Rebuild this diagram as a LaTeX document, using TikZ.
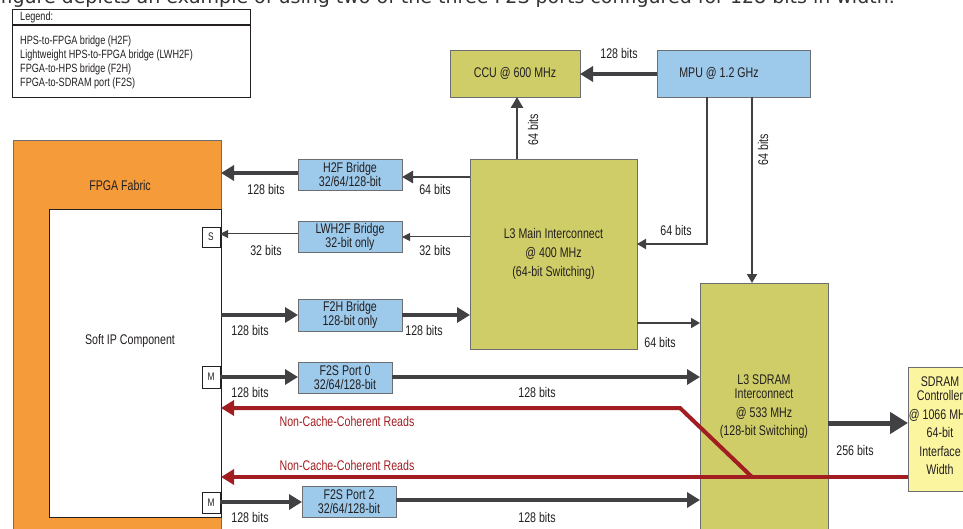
\documentclass[tikz,border=0pt]{standalone}
\usepackage{fontspec}
\setmainfont[FakeStretch=0.76]{Liberation Sans}
\newfontfamily\topfont{DejaVu Sans}
\usetikzlibrary{arrows.meta}
\definecolor{olivec}{HTML}{CFCD68}
\definecolor{bluec}{HTML}{9DC9EA}
\definecolor{orangec}{HTML}{F59B3A}
\definecolor{yelc}{HTML}{FBF5A0}
\definecolor{bordc}{HTML}{6D6E71}
\definecolor{arrc}{HTML}{414042}
\definecolor{redc}{HTML}{A11D21}
\definecolor{txtc}{HTML}{231F20}
\definecolor{topc}{HTML}{333333}
\newcommand\myfs[2]{\fontsize{#1}{#2}\selectfont}
\newcommand\boxat[7]{\node[box,#1,minimum width={#5pt-#3pt},minimum height={#6pt-#4pt}] (#2) at (#3,#4) {#7};}
\tikzset{
  box/.style={draw=bordc, line width=0.9pt, inner sep=0pt, outer sep=0pt, anchor=north west,
    font=\myfs{14}{14}, align=center, text=txtc},
  olivebox/.style={fill=olivec},
  bluebox/.style={fill=bluec},
  lbl/.style={font=\myfs{14}{14}, text=txtc, inner sep=0pt},
  redlbl/.style={font=\myfs{14}{14}, text=redc, inner sep=0pt},
  legtxt/.style={font=\myfs{12}{12}, text=txtc, anchor=west, inner sep=0pt},
  thk/.style={draw=arrc, line width=3.6pt, -{Triangle[length=13pt,width=15pt]}},
  med/.style={draw=arrc, line width=2.6pt, -{Triangle[length=11pt,width=12pt]}},
  thn/.style={draw=arrc, line width=1.8pt, -{Triangle[length=9pt,width=10pt]}},
  hair/.style={draw=arrc, line width=1pt, -{Triangle[length=8pt,width=8pt]}},
  redarr/.style={draw=redc, line width=4pt, -{Triangle[length=13pt,width=15pt]}},
  huge/.style={draw=arrc, line width=5pt, -{Triangle[length=18pt,width=21pt]}},
}
\begin{document}
\begin{tikzpicture}[x=1pt,y=-1pt]
\useasboundingbox (0,0) rectangle (963,529);
\clip (0,0) rectangle (963,529);

% top sentence (cut off)
\node[font=\topfont\myfs{19}{19}, text=topc, anchor=base east, inner sep=0pt] (title) at (895,4)
  {figure depicts an example of using two of the three F2S ports configured for 128 bits in width.};

% legend
\node[draw=txtc, line width=0.8pt, minimum width=238pt, minimum height=88pt, anchor=north west, inner sep=0pt] (legend) at (12,9) {};
\draw[line width=1.3pt, draw=txtc] (legend.west |- 0,25) -- (legend.east |- 0,25);
\node[legtxt] (lg0) at (20,17) {Legend:};
\node[legtxt] (lg1) at (20,41) {HPS-to-FPGA bridge (H2F)};
\node[legtxt] (lg2) at (20,55) {Lightweight HPS-to-FPGA bridge (LWH2F)};
\node[legtxt] (lg3) at (20,69) {FPGA-to-HPS bridge (F2H)};
\node[legtxt] (lg4) at (20,83) {FPGA-to-SDRAM port (F2S)};

% FPGA fabric
\boxat{fill=orangec}{fabric}{13}{140}{221}{545}{}
\node[lbl] (fabtxt) at (120,185) {FPGA Fabric};
\boxat{fill=white, draw=txtc}{soft}{49}{209}{221}{517}{}
\node[lbl] (softtxt) at (130,341) {Soft IP Component};
\boxat{fill=white, draw=txtc, font=\myfs{11}{11}}{slv}{202}{227}{220}{247}{S}
\boxat{fill=white, draw=txtc, font=\myfs{11}{11}}{m0}{202}{366}{220}{388}{M}
\boxat{fill=white, draw=txtc, font=\myfs{11}{11}}{m2}{202}{492}{220}{513}{M}

% bridges
\boxat{bluebox}{h2f}{298}{159}{402}{190}{H2F Bridge\\32/64/128-bit}
\boxat{bluebox}{lwh2f}{298}{221}{402}{252}{LWH2F Bridge\\32-bit only}
\boxat{bluebox}{f2h}{298}{299}{402}{331}{F2H Bridge\\128-bit only}
\boxat{bluebox}{f2s0}{298}{362}{392}{393}{F2S Port 0\\32/64/128-bit}
\boxat{bluebox}{f2s2}{302}{486}{396}{517}{F2S Port 2\\32/64/128-bit}

% main blocks
\boxat{olivebox}{ccu}{450}{50}{580}{97}{CCU @ 600 MHz}
\boxat{bluebox}{mpu}{657}{50}{810}{97}{}
\node[lbl] (mputxt) at (719,73) {MPU @ 1.2 GHz};
\boxat{olivebox, font=\myfs{14}{19}}{l3main}{470}{159}{637}{349}{L3 Main Interconnect\\@ 400 MHz\\(64-bit Switching)}
\boxat{olivebox}{l3sd}{700}{283}{828}{545}{}
\node[lbl, align=center] (l3sdtxt) at (764,407) {L3 SDRAM\\Interconnect\\[5pt]@ 533 MHz\\[4pt](128-bit Switching)};
\boxat{fill=yelc}{sdc}{908}{367}{972}{491}{}
\node[lbl, align=center] (sdctxt) at (940,426) {SDRAM\\Controller\\[5pt]@ 1066 MHz\\[4pt]64-bit\\[5pt]Interface\\[4pt]Width};

% connectors
\draw[thk] (mpu.west |- 0,74) -- (ccu.east |- 0,74);
\node[lbl] (t128a) at (619,53) {128 bits};
\draw[med] (l3main.north -| 517,0) -- (ccu.south -| 517,0);
\node[lbl, rotate=90] (t64a) at (533,130) {64 bits};
\coordinate (mpuk) at (707,244);
\draw[thn] (mpu.south -| mpuk) -- (mpuk) -- (l3main.east |- mpuk);
\node[lbl] (t64b) at (676,230) {64 bits};
\draw[thn] (mpu.south -| 752,0) -- (l3sd.north -| 752,0);
\node[lbl, rotate=90] (t64c) at (763,150) {64 bits};
\draw[thn] (l3main.east |- 0,323) -- (l3sd.west |- 0,323);
\node[lbl] (t64d) at (660,342) {64 bits};

\draw[med] (l3main.west |- 0,177) -- (h2f.east |- 0,177);
\node[lbl] (t64e) at (435,189) {64 bits};
\draw[thk] (h2f.west |- 0,173) -- (fabric.east |- 0,173);
\node[lbl] (t128b) at (266,189) {128 bits};
\draw[hair] (l3main.west |- 0,237) -- (lwh2f.east |- 0,237);
\node[lbl] (t32a) at (435,250) {32 bits};
\draw[hair] (lwh2f.west |- 0,234) -- (slv.east |- 0,234);
\node[lbl] (t32b) at (266,250) {32 bits};

\draw[thk] (soft.east |- f2h.west) -- (f2h.west);
\node[lbl] (t128c) at (250,330) {128 bits};
\draw[thk] (f2h.east) -- (l3main.west |- f2h.east);
\node[lbl] (t128d) at (424,330) {128 bits};

\draw[thk] (m0.east |- 0,377) -- (f2s0.west |- 0,377);
\node[lbl] (t128e) at (250,392) {128 bits};
\draw[thk] (f2s0.east |- 0,377) -- (l3sd.west |- 0,377);
\node[lbl] (t128f) at (537,392) {128 bits};
\draw[thk] (m2.east |- 0,502) -- (f2s2.west |- 0,502);
\node[lbl] (t128g) at (250,517) {128 bits};
\draw[thk] (f2s2.east |- 0,500) -- (l3sd.west |- 0,500);
\node[lbl] (t128h) at (537,517) {128 bits};

\draw[huge] (l3sd.east |- 0,423) -- (sdc.west |- 0,423);
\node[lbl] (t256) at (855,450) {256 bits};

% non-cache-coherent reads
\coordinate (rj) at (752,477);
\coordinate (rb) at (680,408);
\draw[redarr] (rj) -- (rb) -- (soft.east |- rb);
\node[redlbl] (ncc1) at (347,421) {Non-Cache-Coherent Reads};
\draw[redarr] (sdc.west |- rj) -- (soft.east |- rj);
\node[redlbl] (ncc2) at (347,465) {Non-Cache-Coherent Reads};
\end{tikzpicture}
\end{document}
